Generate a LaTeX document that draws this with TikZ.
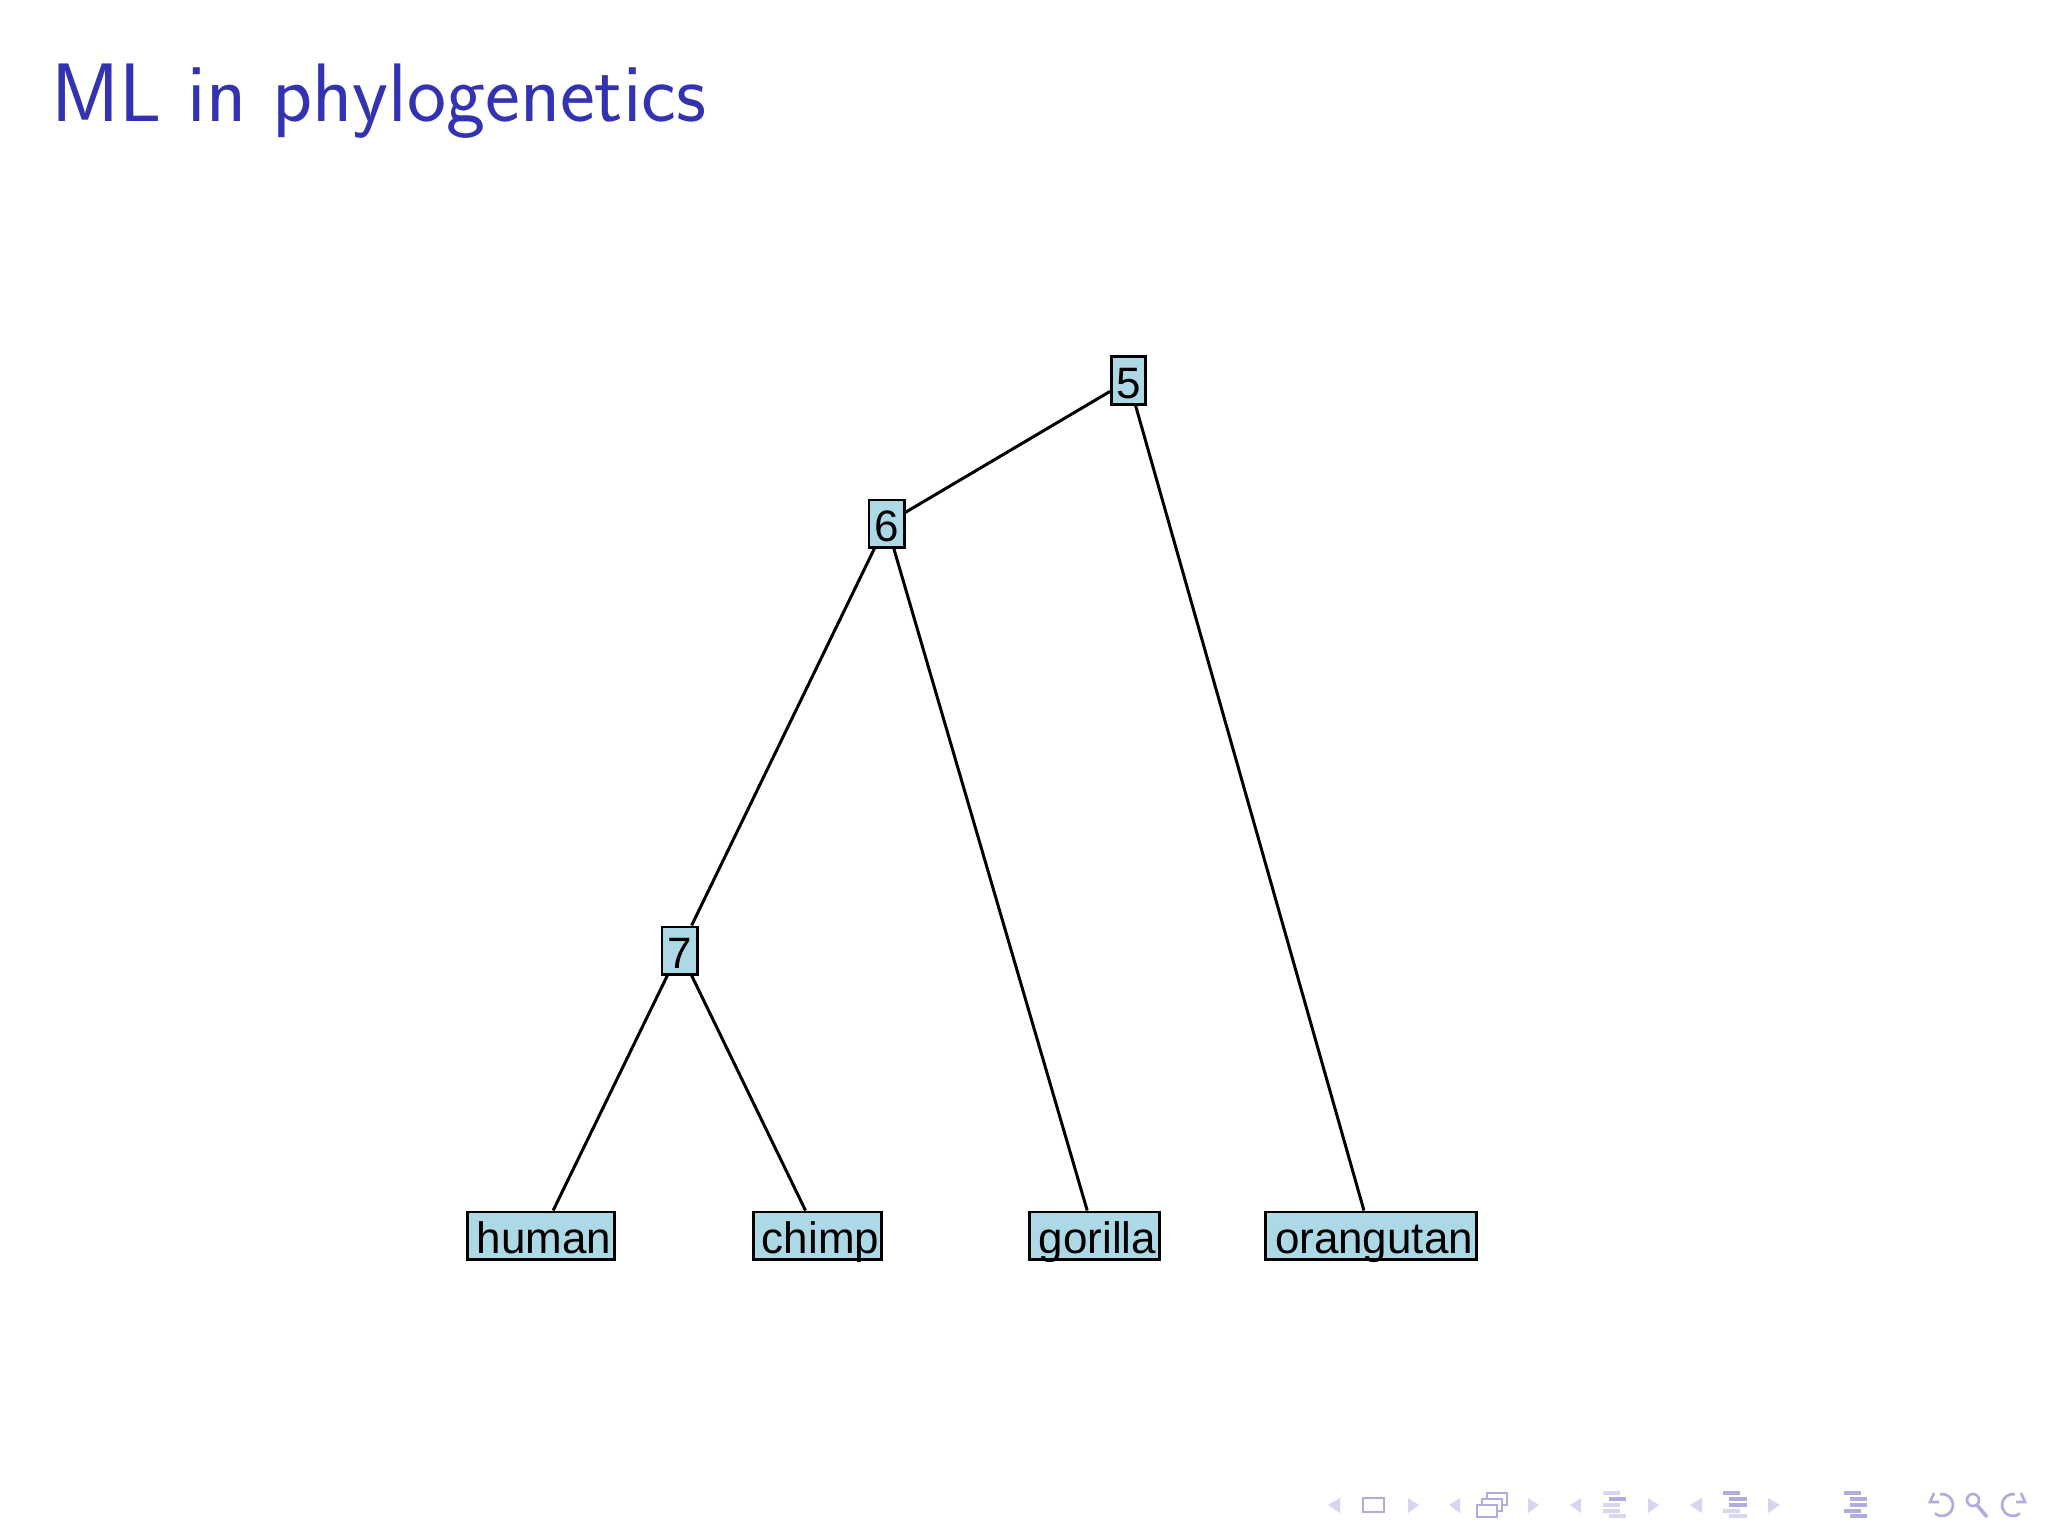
\documentclass[tikz,border=0pt]{standalone}
\usepackage{fontspec}
\newfontfamily\arialfont{Liberation Sans}
\definecolor{lightblue}{HTML}{ADD8E6}
\definecolor{struct}{rgb}{0.2,0.2,0.7}
\colorlet{navfg}{struct!40}
\colorlet{navdim}{struct!20}
\newcommand{\lpad}{\hspace{0.06cm}}
\begin{document}
\begin{tikzpicture}[x=0.01cm,y=-0.01cm,
  vtx/.style={draw=black, line width=0.85pt, fill=lightblue, inner xsep=0pt, inner ysep=0pt,
    text height=0.41cm, text depth=0.06cm, text=black,
    font=\arialfont\fontsize{12.5pt}{14pt}\selectfont},
  branch/.style={draw=black, line width=0.85pt},
  navtri/.style={fill=navdim, draw=none},
  navic/.style={draw=navfg, line width=0.75pt},
  navln/.style={draw=navfg, line width=1.0pt},
  navlnd/.style={draw=navdim, line width=1.0pt},
]
\useasboundingbox[fill=white] (0,0) rectangle (2048,1536);

% title
\node[anchor=base west, inner sep=0pt, text=struct,
  font=\sffamily\fontsize{23.6pt}{28pt}\selectfont] (title) at (51,121) {ML in phylogenetics};

% tree nodes
\node[vtx, minimum width=0.34cm] (n5) at (1128.5,380.5) {5};
\node[vtx, minimum width=0.35cm] (n6) at (886.5,523.5) {6};
\node[vtx, minimum width=0.35cm] (n7) at (679.5,950.5) {7};
\node[vtx, minimum width=1.46cm] (human) at (541,1235.5) {\lpad human};
\node[vtx, minimum width=1.28cm] (chimp) at (817.6,1235.5) {\lpad chimp};
\node[vtx, minimum width=1.29cm] (gorilla) at (1094.5,1235.5) {\lpad gorilla};
\node[vtx, minimum width=2.10cm] (orangutan) at (1371,1235.5) {\lpad orangutan};

% branches
\draw[branch] (n5) -- (n6);
\draw[branch] (n5) -- (orangutan);
\draw[branch] (n6) -- (n7);
\draw[branch] (n6) -- (gorilla);
\draw[branch] (n7) -- (human);
\draw[branch] (n7) -- (chimp);

% navigation symbols
\foreach \a/\b in {1328/1340,1449/1460,1570/1581,1690/1702}
  \fill[navtri] (\a,1505) -- (\b,1498) -- (\b,1513) -- cycle;
\foreach \a/\b in {1408/1419,1528/1539,1648/1659,1768/1780}
  \fill[navtri] (\a,1498) -- (\b,1505) -- (\a,1513) -- cycle;
% slide icon
\draw[navic] (1363,1498) rectangle (1384,1512);
% frame icon
\draw[navic, fill=white] (1487,1493) rectangle (1507,1505);
\draw[navic, fill=white] (1482,1499) rectangle (1502,1511);
\draw[navic, fill=white] (1477,1505) rectangle (1497,1517);
% subsection icon
\draw[navlnd] (1603,1493) -- (1620,1493);
\draw[navln]  (1609,1499) -- (1626,1499);
\draw[navlnd] (1603,1505) -- (1620,1505);
\draw[navlnd] (1603,1511) -- (1620,1511);
\draw[navlnd] (1609,1516) -- (1626,1516);
% section icon
\draw[navln]  (1723,1493) -- (1740,1493);
\draw[navln]  (1729,1499) -- (1747,1499);
\draw[navln]  (1729,1505) -- (1747,1505);
\draw[navlnd] (1723,1511) -- (1740,1511);
\draw[navlnd] (1729,1516) -- (1747,1516);
% presentation icon
\draw[navln] (1844,1493) -- (1861,1493);
\draw[navln] (1850,1499) -- (1867,1499);
\draw[navln] (1850,1505) -- (1867,1505);
\draw[navln] (1844,1511) -- (1861,1511);
\draw[navln] (1850,1516) -- (1867,1516);
% undo
\draw[navic] (1942,1505) ++(-100:11) arc[start angle=-100, end angle=130, radius=11];
\draw[navic] (1934,1493) -- (1930,1502) -- (1939,1502);
% magnifier
\draw[navic] (1973,1500) circle[radius=6];
\draw[navic, line width=1pt] (1977,1505) -- (1987,1517);
% redo
\draw[navic] (2013,1505) ++(-80:11) arc[start angle=-80, end angle=-310, radius=11];
\draw[navic] (2021,1493) -- (2025,1502) -- (2016,1502);
\end{tikzpicture}
\end{document}
